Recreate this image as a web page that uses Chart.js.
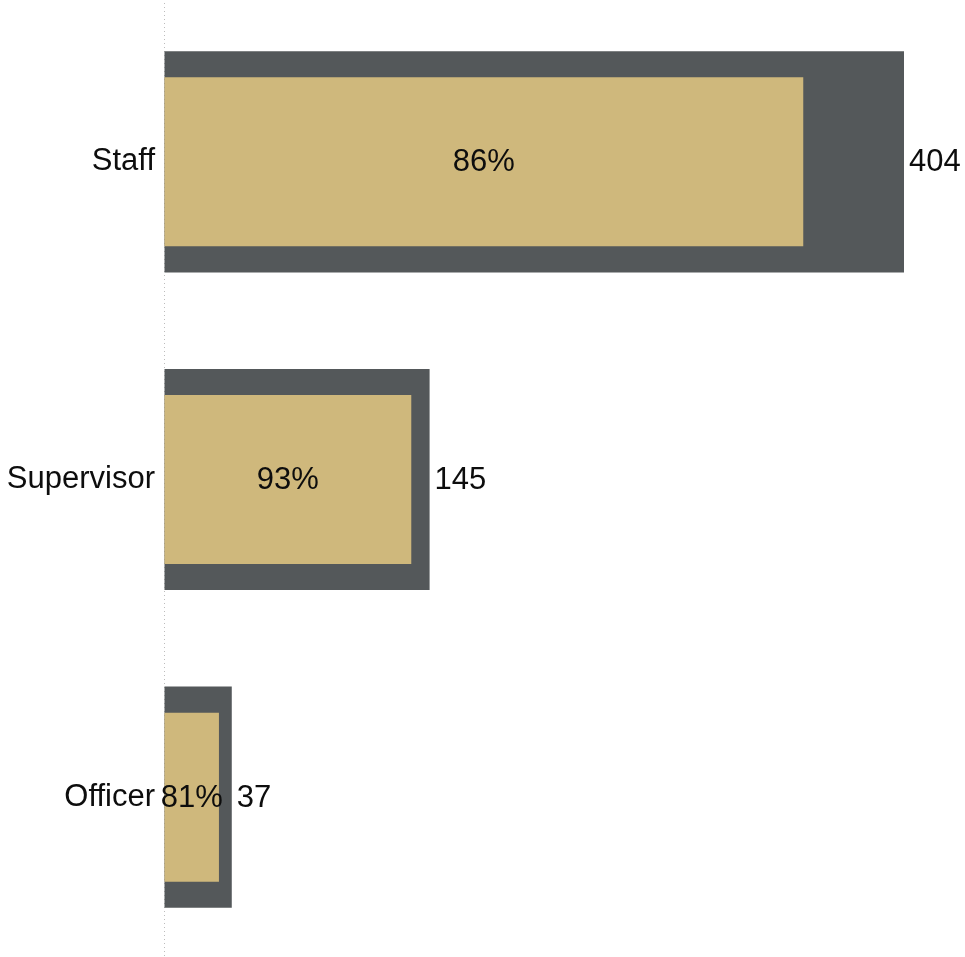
<!DOCTYPE html>
<html>
<head>
<meta charset="utf-8">
<script src="https://cdn.jsdelivr.net/npm/chart.js@4/dist/chart.umd.min.js"></script>
<style>
  html, body { margin: 0; padding: 0; background: #fff; }
  #wrap { width: 965px; height: 957px; }
</style>
</head>
<body>
<div id="wrap"><canvas id="chart"></canvas></div>
<script>
const categories = ['Staff', 'Supervisor', 'Officer'];
const totals = [404, 145, 37];
const subset = [349, 135, 30];

const grey = '#54585A';
const gold = '#CFB87C';
const labelFont = { family: "'Liberation Sans', Arial, sans-serif", size: 31 };

// writes the % inside the gold bar and the total right of the grey bar
const barLabels = {
    id: 'barLabels',
    afterDatasetsDraw(chart) {
        const ctx = chart.ctx;
        const inner = chart.getDatasetMeta(0);
        const outer = chart.getDatasetMeta(1);
        ctx.save();
        ctx.font = labelFont.size + 'px ' + labelFont.family;
        ctx.fillStyle = '#0d0d0d';
        ctx.textBaseline = 'middle';
        inner.data.forEach((bar, i) => {
            const pct = Math.round(subset[i] / totals[i] * 100) + '%';
            ctx.textAlign = 'center';
            ctx.fillText(pct, (bar.base + bar.x) / 2, bar.y + 1);
        });
        outer.data.forEach((bar, i) => {
            ctx.textAlign = 'left';
            ctx.fillText(String(totals[i]), bar.x + 5, bar.y + 1);
        });
        ctx.restore();
    }
};

new Chart(document.getElementById('chart'), {
    type: 'bar',
    data: {
        labels: categories,
        datasets: [{
            label: 'Subset',
            data: subset,
            backgroundColor: gold,
            barPercentage: 0.532,
            categoryPercentage: 1
        }, {
            label: 'Total',
            data: totals,
            backgroundColor: grey,
            barPercentage: 0.696,
            categoryPercentage: 1
        }]
    },
    options: {
        indexAxis: 'y',
        responsive: true,
        maintainAspectRatio: false,
        animation: false,
        grouped: false,
        layout: {
            padding: { top: 3, bottom: 1, right: 61, left: 0 }
        },
        plugins: {
            legend: { display: false },
            tooltip: { enabled: false }
        },
        scales: {
            x: {
                min: 0,
                max: Math.max(...totals),
                ticks: { display: false },
                grid: {
                    drawTicks: false,
                    lineWidth: 1,
                    color: (c) => (c.tick && c.tick.value === 0) ? '#bdbdbd' : 'rgba(0,0,0,0)'
                },
                border: { display: false, dash: [1, 3] },
                afterFit: function (scale) {
                    scale.height = 0;
                    scale.paddingLeft = 0;
                    scale.paddingRight = 0;
                }
            },
            y: {
                grid: { display: false, drawTicks: false },
                border: { display: false },
                ticks: {
                    color: '#0d0d0d',
                    padding: 9,
                    font: labelFont
                },
                afterFit: function (scale) {
                    scale.width = 164;
                    scale.paddingTop = 0;
                    scale.paddingBottom = 0;
                }
            }
        }
    },
    plugins: [barLabels]
});
</script>
</body>
</html>
